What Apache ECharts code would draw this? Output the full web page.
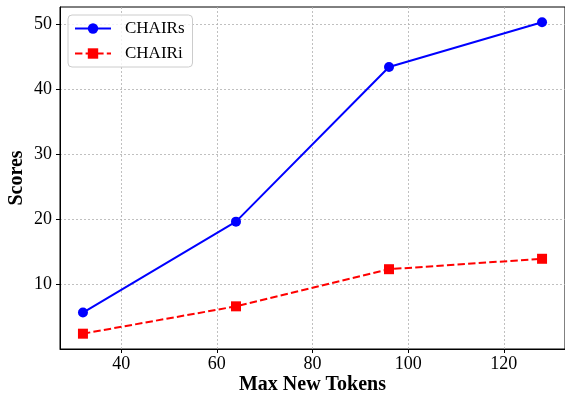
<!DOCTYPE html>
<html>
<head>
<meta charset="utf-8">
<script src="https://cdn.jsdelivr.net/npm/echarts@6/dist/echarts.min.js"></script>
<style>html,body{margin:0;padding:0;background:#fff}#c{width:565px;height:396px}</style>
</head>
<body>
<div id="c"></div>
<script>
const tokens = [32, 64, 96, 128];
const chairS = [5.7, 19.65, 43.4, 50.25];
const chairI = [2.45, 6.65, 12.35, 13.95];
const xTicks = [40, 60, 80, 100, 120];
const yTicks = [10, 20, 30, 40, 50];

const font = 'Liberation Serif, Times New Roman, serif';
const chart = echarts.init(document.getElementById('c'), null, {renderer: 'canvas'});
const gridLine = {show: true, lineStyle: {color: '#b0b0b0', type: [2, 2], width: 0.8}};
chart.setOption({
  animation: false,
  backgroundColor: '#fff',
  grid: {left: 60, right: 0, top: 7, bottom: 47, containLabel: false, outerBoundsMode: 'none',
         show: true, borderColor: '#000', borderWidth: 1, backgroundColor: 'transparent'},
  legend: {
    orient: 'vertical', left: 68, top: 15,
    itemWidth: 36, itemHeight: 13, itemGap: 8,
    padding: [5, 8, 5, 6],
    backgroundColor: 'rgba(255,255,255,0.8)', borderColor: '#cccccc', borderWidth: 1, borderRadius: 4,
    textStyle: {fontFamily: font, fontSize: 17, color: '#000', lineHeight: 16, padding: [0, 0, 0, 9]},
    data: ['CHAIRs', 'CHAIRi']
  },
  xAxis: {
    type: 'value', min: 27.2, max: 132.8,
    name: 'Max New Tokens', nameLocation: 'middle', nameGap: 26, nameMoveOverlap: false,
    nameTextStyle: {fontFamily: font, fontSize: 20, fontWeight: 'bold', color: '#000'},
    axisLine: {show: true, onZero: false, lineStyle: {color: '#000', width: 1}},
    axisTick: {show: true, length: 4, lineStyle: {color: '#000'}, customValues: xTicks},
    axisLabel: {fontFamily: font, fontSize: 18, color: '#000', margin: 6, customValues: xTicks},
    splitLine: gridLine
  },
  yAxis: {
    type: 'value', min: 0.1, max: 52.6,
    name: 'Scores', nameLocation: 'middle', nameGap: 33, nameMoveOverlap: false,
    nameTextStyle: {fontFamily: font, fontSize: 20, fontWeight: 'bold', color: '#000'},
    axisLine: {show: true, onZero: false, lineStyle: {color: '#000', width: 1}},
    axisTick: {show: true, length: 4, lineStyle: {color: '#000'}, customValues: yTicks},
    axisLabel: {fontFamily: font, fontSize: 18, color: '#000', margin: 8, customValues: yTicks},
    splitLine: gridLine
  },
  series: [
    {
      name: 'CHAIRs', type: 'line',
      data: tokens.map((t, i) => [t, chairS[i]]),
      symbol: 'circle', symbolSize: 10,
      lineStyle: {color: '#0000ff', width: 2},
      itemStyle: {color: '#0000ff'}
    },
    {
      name: 'CHAIRi', type: 'line',
      data: tokens.map((t, i) => [t, chairI[i]]),
      symbol: 'rect', symbolSize: 10,
      lineStyle: {color: '#ff0000', width: 2, type: [7.4, 3.2]},
      itemStyle: {color: '#ff0000'}
    }
  ]
});
</script>
</body>
</html>
